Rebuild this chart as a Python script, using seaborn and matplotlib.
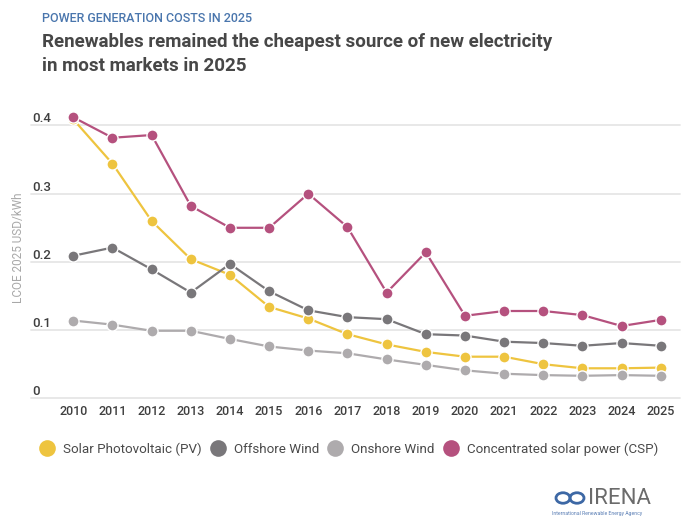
import numpy as np
import pandas as pd
import matplotlib
matplotlib.use("Agg")
import matplotlib.pyplot as plt
import matplotlib.transforms as mtransforms
from matplotlib.lines import Line2D
from matplotlib.patches import Circle
import seaborn as sns

years = list(range(2010, 2026))
solar_pv = [0.409, 0.344, 0.260, 0.204, 0.181, 0.134, 0.117, 0.094, 0.079, 0.068,
            0.061, 0.061, 0.050, 0.044, 0.044, 0.045]
offshore_wind = [0.209, 0.221, 0.189, 0.155, 0.197, 0.157, 0.129, 0.119, 0.116, 0.094,
                 0.092, 0.083, 0.081, 0.077, 0.081, 0.077]
onshore_wind = [0.114, 0.108, 0.099, 0.099, 0.087, 0.076, 0.070, 0.066, 0.057, 0.049,
                0.041, 0.036, 0.034, 0.033, 0.034, 0.033]
csp = [0.412, 0.382, 0.386, 0.282, 0.250, 0.250, 0.300, 0.251, 0.155, 0.214,
       0.121, 0.128, 0.128, 0.122, 0.106, 0.115]

series_names = ["Solar Photovoltaic (PV)", "Offshore Wind", "Onshore Wind",
                "Concentrated solar power (CSP)"]
series_values = [solar_pv, offshore_wind, onshore_wind, csp]
colors = ["#EEC43F", "#79777A", "#AEABAD", "#B5517E"]
y_ticks = [0, 0.1, 0.2, 0.3, 0.4]
y_tick_labels = ["0", "0.1", "0.2", "0.3", "0.4"]

df = pd.concat([pd.DataFrame({"year": years, "value": v, "series": n})
                for n, v in zip(series_names, series_values)], ignore_index=True)

sns.set_theme(style="white")
plt.rcParams["font.family"] = ["Roboto", "DejaVu Sans"]

W, H = 696, 522
fig = plt.figure(figsize=(W / 100, H / 100), dpi=100)
x0, x1 = 31, 680
y_bot, y_top = 398.3, 98.2
ax = fig.add_axes([x0 / W, (H - y_bot) / H, (x1 - x0) / W, (y_bot - y_top) / H])

palette = dict(zip(series_names, colors))
sns.lineplot(data=df, x="year", y="value", hue="series", hue_order=series_names,
             palette=palette, marker="o", markersize=8, markeredgecolor="white",
             markeredgewidth=1.0, linewidth=1.6, ax=ax, legend=False, zorder=3)

ax.set_xlim(2008.92, 2025.49)
ax.set_ylim(0, 0.44)
for s in ax.spines.values():
    s.set_visible(False)
ax.set_yticks([])
ax.set_xticks(years)
ax.set_xticklabels([str(y) for y in years], fontsize=9, color="#3f3f3f", fontweight="medium")
ax.tick_params(axis="x", length=0, pad=5)
ax.set_xlabel("")
ax.set_ylabel("")
for t in y_ticks:
    ax.axhline(t, color="#e6e6e6", linewidth=1.3, zorder=1, clip_on=False)

trans = mtransforms.blended_transform_factory(fig.transFigure, ax.transData)
for t, lab in zip(y_ticks, y_tick_labels):
    ax.text(32 / W, t, lab, transform=trans, fontsize=9.5, color="#3f3f3f",
            ha="left", va="bottom", fontweight="medium")

fig.text(19 / W, (H - 248) / H, "LCOE 2025 USD/kWh", rotation=90, fontsize=8.5,
         color="#a8a8a8", ha="center", va="center")

fig.text(42 / W, (H - 18) / H, "POWER GENERATION COSTS IN 2025", fontsize=9,
         color="#4a76ad", fontweight="medium", ha="left", va="center")
fig.text(42 / W, (H - 54) / H,
         "Renewables remained the cheapest source of new electricity\nin most markets in 2025",
         fontsize=13.5, color="#474747", fontweight="bold", ha="left", va="center",
         linespacing=1.45)

handles = [Line2D([0], [0], marker="o", linestyle="none", markersize=12,
                  markerfacecolor=c, markeredgecolor="none") for c in colors]
fig.legend(handles, series_names, loc="center left", bbox_to_anchor=(28 / W, (H - 449) / H),
           ncol=4, frameon=False, handletextpad=0.7, columnspacing=0.73,
           handlelength=1.0, prop={"size": 9.6}, labelcolor="#4a4a4a")

# IRENA logo text
fig.text(588 / W, (H - 498) / H, "IRENA", fontsize=16, color="#6b6b6b",
         ha="left", va="center")
fig.text(552 / W, (H - 513) / H, "International Renewable Energy Agency", fontsize=3.7,
         color="#5b7fb5", ha="left", va="center")
for cx in (563, 577):
    fig.patches.append(Circle((cx / W, (H - 498) / H), 7 / W, transform=fig.transFigure,
                              facecolor="none", edgecolor="#3d68a5", linewidth=2))

fig.savefig("out.png", dpi=100, facecolor="white")
